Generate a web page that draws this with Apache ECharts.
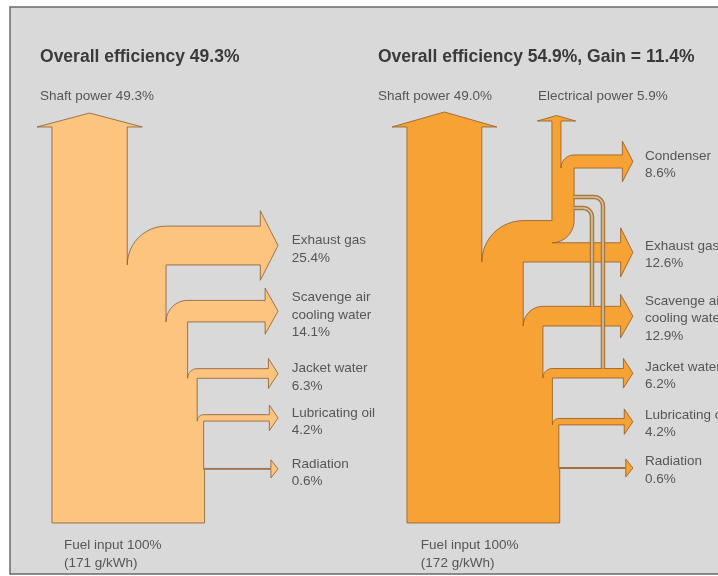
<!DOCTYPE html>
<html>
<head>
<meta charset="utf-8">
<script src="https://cdn.jsdelivr.net/npm/echarts@6/dist/echarts.min.js"></script>
<style>
html,body{margin:0;padding:0;background:#ffffff;}
#c{width:718px;height:576px;}
</style>
</head>
<body>
<div id="c"></div>
<script>
// ---------------- DATA ----------------
const leftShaft = 49.3;
const leftLossNames = ['Exhaust gas', 'Scavenge air\ncooling water', 'Jacket water', 'Lubricating oil', 'Radiation'];
const leftLossValues = [25.4, 14.1, 6.3, 4.2, 0.6];
const leftFuel = 100;
const leftFuelRate = '171 g/kWh';

const rightShaft = 49.0;
const rightElectrical = 5.9;
const rightCondenser = 8.6;
const rightLossNames = ['Exhaust gas', 'Scavenge air\ncooling water', 'Jacket water', 'Lubricating oil', 'Radiation'];
const rightLossValues = [12.6, 12.9, 6.2, 4.2, 0.6];
const rightFuel = 100;
const rightFuelRate = '172 g/kWh';

// ---------------- LAYOUT (axis units; 1 unit = 1 % of fuel input) ----------------
const FONT = '"Liberation Sans", Arial, sans-serif';
const LEFT = {
  x0: 34.0, yBot: 342.3, shaftBase: 83.1, shaftTip: 74.0, shaftOh: 9.8,
  levels: [173.4, 210.7, 247.6, 275.6, 307.2], tip: 182.0, labelX: 191.0, labelDy: 2.6,
  titleX: 26.2, topLabelX: 26.2, fuelLabelX: 41.9,
  fill: '#fcc47f', stroke: 'rgba(140,100,60,0.85)'
};
const RIGHT = {
  x0: 266.4, yBot: 342.3, shaftBase: 83.1, shaftTip: 73.3, shaftOh: 9.8,
  levels: [171.5, 213.4, 247.4, 278.1, 306.6], tip: 414.3, labelX: 422.2, labelDy: 1.5,
  pipeX: 361.3, condLevel: 110.0, elecBase: 79.2, elecTip: 75.6, elecOh: 9.6,
  titleX: 247.4, topLabelX: 247.4, elecLabelX: 352.1, fuelLabelX: 275.5,
  fill: '#f7a234', stroke: 'rgba(150,95,40,0.85)'
};
const TITLE_Y = 37.3, TOPLABEL_Y = 62.8, FUEL_Y = 362.9;

function headPts(pts, yTop, yBot, tipX, w, big) {
  const oh = (big ? 7.5 : 5.5) + 0.18 * w;
  const hl = 4.5 + 0.28 * w;
  const bx = tipX - hl;
  pts.push([bx, yTop], [bx, yTop - oh], [tipX, (yTop + yBot) / 2], [bx, yBot + oh], [bx, yBot]);
}
function arc(pts, cx, cy, r, a0, a1, n) {
  for (let i = 0; i <= n; i++) {
    const t = a0 + (a1 - a0) * i / n;
    pts.push([cx + r * Math.cos(t), cy + r * Math.sin(t)]);
  }
}
// side branch leaving the body's right edge at Rn, turning right
function sideBranch(pts, Rn, w, yb, tipX, big) {
  const Rp = Rn + w;
  arc(pts, Rp, yb, w, Math.PI, Math.PI * 1.5, 12);
  headPts(pts, yb - w, yb, tipX, w, big);
  pts.push([Rp, yb]);
  return Rp;
}
function shaftPts(L, wsh) {
  return [[L.x0, L.yBot], [L.x0, L.shaftBase], [L.x0 - L.shaftOh, L.shaftBase],
          [L.x0 + wsh / 2, L.shaftTip], [L.x0 + wsh + L.shaftOh, L.shaftBase], [L.x0 + wsh, L.shaftBase]];
}
function txt(api, x, y, text, font, fill, vAlign) {
  const p = api.coord([x, y]);
  return {
    type: 'text', x: p[0], y: p[1],
    style: {
      text: text, font: font, fill: fill, lineHeight: 17.5,
      align: 'left', verticalAlign: vAlign || 'middle',
      textAlign: 'left', textVerticalAlign: vAlign || 'middle'
    }
  };
}
const fmt = v => v.toFixed(1) + '%';
const LABEL_FONT = '13.5px ' + FONT;
const TITLE_FONT = 'bold 17.5px ' + FONT;
const LABEL_COLOR = '#565656';
const TITLE_COLOR = '#3a3a3a';

function renderLeft(params, api) {
  const L = LEFT;
  const pts = shaftPts(L, leftShaft);
  let R = L.x0 + leftShaft;
  const children = [];
  leftLossValues.forEach((w, i) => { R = sideBranch(pts, R, w, L.levels[i], L.tip, false); });
  pts.push([R, L.yBot]);
  children.push({ type: 'polygon', shape: { points: pts.map(p => api.coord(p)) },
    style: { fill: L.fill, stroke: L.stroke, lineWidth: 1 } });
  leftLossValues.forEach((w, i) => {
    const yc = L.levels[i] - w / 2 + L.labelDy;
    children.push(txt(api, L.labelX, yc, leftLossNames[i] + '\n' + fmt(w), LABEL_FONT, LABEL_COLOR));
  });
  const eff = leftShaft;
  children.push(txt(api, L.titleX, TITLE_Y, 'Overall efficiency ' + fmt(eff), TITLE_FONT, TITLE_COLOR));
  children.push(txt(api, L.topLabelX, TOPLABEL_Y, 'Shaft power ' + fmt(leftShaft), LABEL_FONT, LABEL_COLOR));
  children.push(txt(api, L.fuelLabelX, FUEL_Y, 'Fuel input ' + leftFuel + '%\n(' + leftFuelRate + ')', LABEL_FONT, LABEL_COLOR));
  return { type: 'group', children: children };
}

function renderRight(params, api) {
  const L = RIGHT;
  const wsh = rightShaft, we = rightElectrical, wc = rightCondenser, wx = rightLossValues[0];
  const wp = we + wc, wtop = wx + wp;
  const yx = L.levels[0];
  const P = L.pipeX;
  const pts = shaftPts(L, wsh);
  // combined exhaust flow turning right out of the engine body
  const C = L.x0 + wsh + wtop;
  arc(pts, C, yx, wtop, Math.PI, Math.PI * 1.5, 16);
  pts.push([P, yx - wtop]);
  // electrical power riser
  pts.push([P, L.elecBase], [P - L.elecOh, L.elecBase], [P + we / 2, L.elecTip],
           [P + we + L.elecOh, L.elecBase], [P + we, L.elecBase]);
  // condenser
  sideBranch(pts, P + we, wc, L.condLevel, L.tip, true);
  // riser back down and its bend
  arc(pts, P, yx - wtop, wp, 0, Math.PI / 2, 12);
  // exhaust gas
  headPts(pts, yx - wx, yx, L.tip, wx, true);
  pts.push([C, yx]);
  let R = C;
  for (let i = 1; i < rightLossValues.length; i++) {
    R = sideBranch(pts, R, rightLossValues[i], L.levels[i], L.tip, false);
  }
  pts.push([R, L.yBot]);
  const children = [];
  children.push({ type: 'polygon', shape: { points: pts.map(p => api.coord(p)) },
    style: { fill: L.fill, stroke: L.stroke, lineWidth: 1 } });
  // thin heat-recovery pipes to scavenge air cooler and jacket water
  const pipeDefs = [
    { y: 128.9, x: 394.7, end: L.levels[2] - rightLossValues[2] },
    { y: 136.1, x: 387.5, end: L.levels[1] - rightLossValues[1] }
  ];
  pipeDefs.forEach(d => {
    const pp = [[P + wp - 0.5, d.y]];
    const r = 6;
    arc(pp, d.x - r, d.y + r, r, -Math.PI / 2, 0, 8);
    pp.push([d.x, d.end]);
    const cp = pp.map(p => api.coord(p));
    children.push({ type: 'polyline', shape: { points: cp }, style: { stroke: '#a8783f', lineWidth: 4.5, fill: null } });
    children.push({ type: 'polyline', shape: { points: cp }, style: { stroke: '#d6c2a2', lineWidth: 1.6, fill: null } });
  });
  // labels
  children.push(txt(api, L.labelX, L.condLevel - wc / 2 + 2, 'Condenser\n' + fmt(wc), LABEL_FONT, LABEL_COLOR));
  rightLossValues.forEach((w, i) => {
    const yc = L.levels[i] - w / 2 + L.labelDy;
    children.push(txt(api, L.labelX, yc, rightLossNames[i] + '\n' + fmt(w), LABEL_FONT, LABEL_COLOR));
  });
  const eff = rightShaft + rightElectrical;
  const gain = (eff / leftShaft - 1) * 100;
  children.push(txt(api, L.titleX, TITLE_Y, 'Overall efficiency ' + fmt(eff) + ', Gain = ' + fmt(gain), TITLE_FONT, TITLE_COLOR));
  children.push(txt(api, L.topLabelX, TOPLABEL_Y, 'Shaft power ' + fmt(rightShaft), LABEL_FONT, LABEL_COLOR));
  children.push(txt(api, L.elecLabelX, TOPLABEL_Y, 'Electrical power ' + fmt(rightElectrical), LABEL_FONT, LABEL_COLOR));
  children.push(txt(api, L.fuelLabelX, FUEL_Y, 'Fuel input ' + rightFuel + '%\n(' + rightFuelRate + ')', LABEL_FONT, LABEL_COLOR));
  return { type: 'group', children: children };
}

const chart = echarts.init(document.getElementById('c'), null, { renderer: 'canvas' });
chart.setOption({
  animation: false,
  graphic: [{
    type: 'rect', z: -10, silent: true,
    shape: { x: 10, y: 7, width: 730, height: 567 },
    style: { fill: '#d9d9d9', stroke: '#6a6a6a', lineWidth: 1.5 }
  }],
  grid: { left: 0, right: 0, top: 0, bottom: 0 },
  xAxis: { type: 'value', min: 0, max: 470, show: false },
  yAxis: { type: 'value', min: 0, max: 377, inverse: true, show: false },
  series: [
    { type: 'custom', name: 'Conventional engine', coordinateSystem: 'cartesian2d', renderItem: renderLeft, data: [[0, 0]], silent: true },
    { type: 'custom', name: 'Engine with waste heat recovery', coordinateSystem: 'cartesian2d', renderItem: renderRight, data: [[0, 0]], silent: true }
  ]
});
</script>
</body>
</html>
